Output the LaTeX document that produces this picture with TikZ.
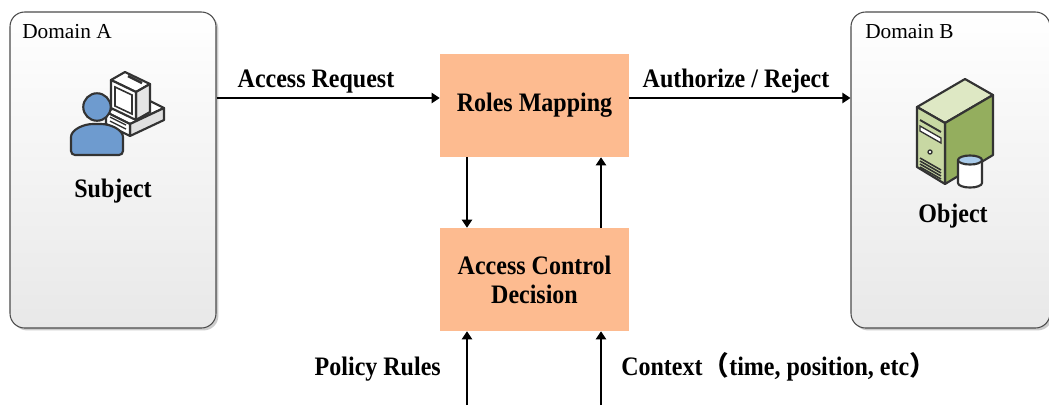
\documentclass[tikz,border=0pt]{standalone}
\usepackage{fontspec}
\setmainfont{Liberation Serif}
\newfontfamily\tallserif{Liberation Serif}[FakeStretch=0.9]
\newfontfamily\cjk{Noto Sans CJK SC}
\usetikzlibrary{arrows.meta,shadows}
\definecolor{boxorange}{HTML}{FDBB90}
\definecolor{iconline}{HTML}{333333}
\definecolor{personblue}{HTML}{6E9BCF}
\definecolor{srvleft}{HTML}{C8D8A3}
\definecolor{srvtop}{HTML}{DEE8C4}
\definecolor{srvright}{HTML}{94AE5E}
\definecolor{dbtop}{HTML}{A9CBEA}
\newcommand{\bigbold}{\tallserif\fontsize{20}{21.75}\selectfont\bfseries}
\newcommand{\domfont}{\fontsize{16}{19}\selectfont}
\tikzset{
  domainbox/.style={draw=black!70, line width=0.8pt, rounded corners=11pt,
    top color=white, bottom color=black!9, minimum height=237pt,
    drop shadow={shadow xshift=1.8pt, shadow yshift=-1.8pt, fill=black!40, opacity=0.5}},
  procbox/.style={fill=boxorange, minimum width=141.75pt, minimum height=77.25pt,
    align=center, font=\bigbold},
  arr/.style={-{Triangle[length=6pt,width=7.5pt]}, line width=1.5pt},
  lbl/.style={font=\bigbold, inner sep=0pt, anchor=base},
  icon/.style={draw=iconline, line width=1.6pt, line join=round},
}
\begin{document}
\begin{tikzpicture}[x=0.75pt,y=-0.75pt]
\useasboundingbox (0,0) rectangle (1049,405);

\node[domainbox, minimum width=154.5pt] (domA) at (113,170) {};
\node[domainbox, minimum width=149.25pt] (domB) at (950.5,170) {};
\node[anchor=base west, inner sep=0pt, font=\domfont] (tA) at (22,38) {Domain A};
\node[anchor=base west, inner sep=0pt, font=\domfont] (tB) at (865,38) {Domain B};

\node[procbox] (map) at (534.5,105.5) {Roles Mapping};
\node[procbox] (acd) at (534.5,279.5) {Access Control\\Decision};

% subject: computer behind the person
\filldraw[icon, fill=white] (106,112) -- (140,96) -- (164,108) -- (130,124) -- cycle;
\filldraw[icon, fill=black!12] (130,124) -- (164,108) -- (164,120) -- (130,136) -- cycle;
\filldraw[icon, fill=white] (106,112) -- (130,124) -- (130,136) -- (106,124) -- cycle;
\foreach \k in {0,1}
    \draw[iconline, line width=1pt] (110,117+4*\k) -- (126,125+4*\k);
\filldraw[icon, fill=white] (111,80) -- (125,72) -- (150,84) -- (136,92) -- cycle;
\filldraw[icon, fill=black!10] (136,92) -- (150,84) -- (150,112) -- (136,120) -- cycle;
\filldraw[icon, fill=white] (111,80) -- (136,92) -- (136,120) -- (111,108) -- cycle;
\draw[iconline, line width=1.2pt] (115,87) -- (132,95) -- (132,114) -- (115,106) -- cycle;
\draw[iconline, line width=2pt] (128,76) -- (142,83);
\filldraw[icon, fill=personblue, rounded corners=3pt] (71,155) -- (71,141) .. controls (71,130) and (83,124) .. (97,124) .. controls (111,124) and (123,130) .. (123,141) -- (123,155) -- cycle;
\filldraw[icon, fill=personblue] (97,107) circle [radius=10.3pt];

% object: server with database
\filldraw[icon, fill=srvtop] (917,107) -- (965,79) -- (993,95) -- (945,123) -- cycle;
\filldraw[icon, fill=srvright] (945,123) -- (993,95) -- (993,155) -- (945,184) -- cycle;
\filldraw[icon, fill=srvleft] (917,107) -- (945,123) -- (945,184) -- (917,167) -- cycle;
\draw[iconline, line width=1.4pt] (920,120) -- (941,132);
\draw[iconline, line width=1pt, fill=white] (920,126) -- (941,138) -- (941,143) -- (920,131) -- cycle;
\draw[iconline, line width=1pt, fill=white] (930,152) circle [radius=1.5pt];
\foreach \k in {0,...,3}
    \draw[iconline, line width=1.2pt] (920,158+3*\k) -- (941,170+3*\k);
\filldraw[icon, fill=white] (958,160) -- (958,183) arc[start angle=180, end angle=360, x radius=9pt, y radius=3.4pt] -- (982,160) -- cycle;
\filldraw[icon, fill=dbtop] (970,160) ellipse [x radius=9pt, y radius=3.4pt];

\node[lbl] (sub) at (113,197) {Subject};
\node[lbl] (obj) at (953,222) {Object};
\node[lbl] (req) at (316,87) {Access Request};
\node[lbl] (auth) at (736,87) {Authorize / Reject};
\node[lbl, anchor=base east] (pol) at (441,375) {Policy Rules};
\node[lbl, anchor=base west] (ctx) at (621,375) {Context{\cjk （}time, position, etc{\cjk ）}};

\draw[arr] (domA.east |- 0,98) -- (map.west |- 0,98);
\draw[arr] (map.east |- 0,98) -- (domB.west |- 0,98);
\draw[arr] (map.south -| 467,0) -- (acd.north -| 467,0);
\draw[arr] (acd.north -| 601,0) -- (map.south -| 601,0);
\coordinate (polin) at (467,405);
\coordinate (ctxin) at (601,405);
\foreach \c in {polin,ctxin}
    \draw[arr] (\c) -- (acd.south -| \c);
\end{tikzpicture}
\end{document}
